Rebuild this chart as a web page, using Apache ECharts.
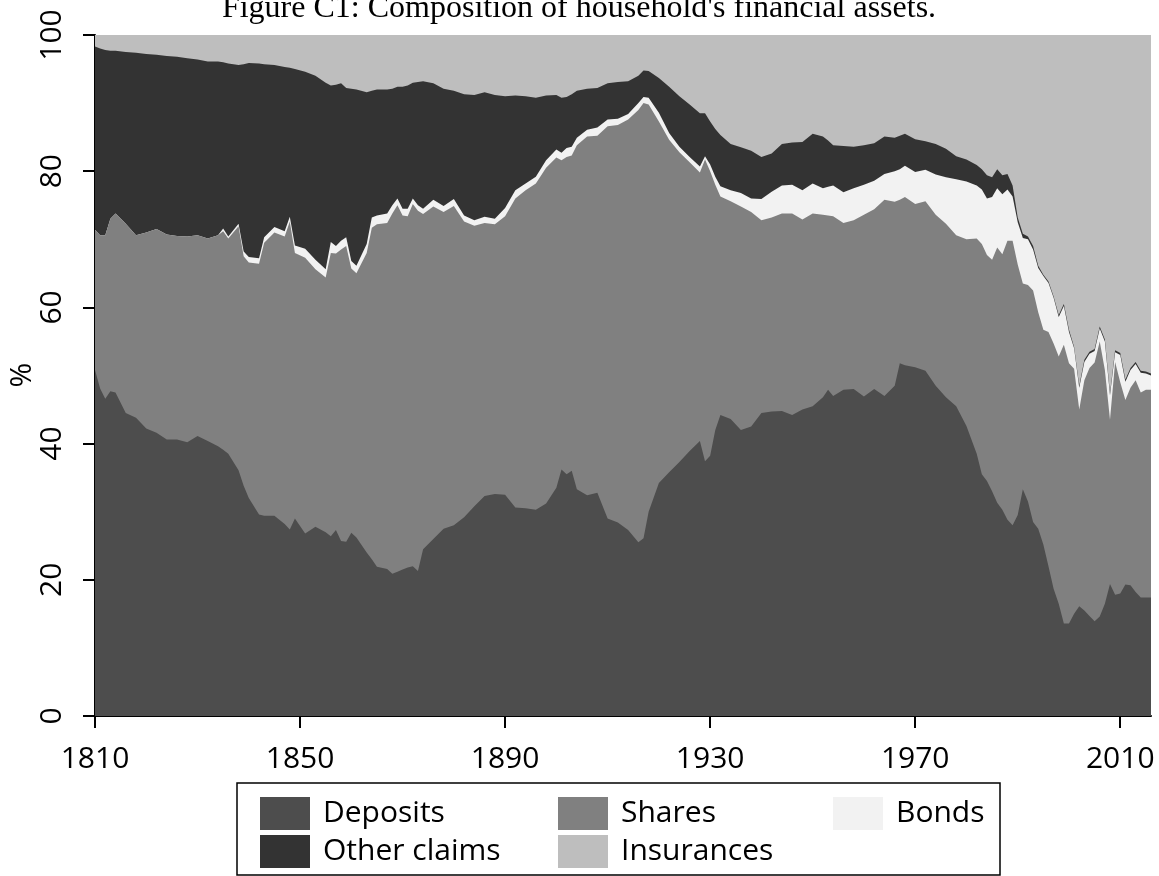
<!DOCTYPE html>
<html>
<head>
<meta charset="utf-8">
<script src="https://cdn.jsdelivr.net/npm/echarts@6/dist/echarts.min.js"></script>
<style>
html,body{margin:0;padding:0;background:#fff;}
#chart{width:1159px;height:876px;}
</style>
</head>
<body>
<div id="chart"></div>
<script>
const years = [1810,1811,1812,1813,1814,1816,1818,1820,1822,1824,1826,1828,1830,1832,1834,1835,1836,1838,1839,1840,1842,1843,1845,1847,1848,1849,1851,1853,1855,1856,1857,1858,1859,1860,1861,1863,1864,1865,1867,1868,1869,1870,1871,1872,1873,1874,1876,1878,1880,1882,1884,1886,1888,1890,1892,1894,1896,1898,1900,1901,1902,1903,1904,1906,1908,1910,1912,1914,1916,1917,1918,1920,1922,1924,1926,1928,1929,1930,1931,1932,1934,1936,1938,1940,1942,1944,1946,1948,1950,1952,1953,1954,1956,1958,1960,1962,1964,1966,1967,1968,1970,1972,1974,1976,1978,1980,1982,1983,1984,1985,1986,1987,1988,1989,1990,1991,1992,1993,1994,1995,1996,1997,1998,1999,2000,2001,2002,2003,2004,2005,2006,2007,2008,2009,2010,2011,2012,2013,2014,2015,2016];

const deposits = [50.8,48.1,46.6,47.7,47.5,44.5,43.8,42.2,41.6,40.6,40.6,40.2,41.1,40.4,39.6,39.1,38.5,36.1,33.8,32.0,29.6,29.4,29.4,28.2,27.4,29.0,26.8,27.8,27.0,26.4,27.3,25.7,25.6,26.9,26.2,24.0,23.0,21.9,21.6,20.9,21.2,21.5,21.8,22.0,21.3,24.5,26.0,27.5,28.0,29.2,30.8,32.3,32.6,32.5,30.6,30.5,30.3,31.2,33.5,36.2,35.5,36.0,33.3,32.4,32.8,29.0,28.4,27.3,25.5,26.1,30.0,34.2,35.8,37.3,38.9,40.4,37.4,38.2,42.0,44.2,43.6,42.0,42.5,44.5,44.7,44.8,44.2,45.0,45.5,46.8,47.9,47.0,47.9,48.0,46.9,48.0,47.0,48.5,51.8,51.5,51.2,50.7,48.5,46.8,45.5,42.6,38.5,35.5,34.5,33.0,31.3,30.3,28.8,28.0,29.5,33.3,31.5,28.5,27.5,25.2,22.0,18.7,16.5,13.6,13.6,15.0,16.1,15.5,14.7,13.9,14.6,16.5,19.4,17.8,18.0,19.3,19.2,18.2,17.4,17.4,17.4];

const shares = [20.6,22.5,24.0,25.3,26.3,27.8,26.8,28.8,29.9,30.1,29.9,30.2,29.5,29.7,31.0,32.1,31.6,35.8,33.7,34.6,36.8,40.1,41.6,42.2,45.2,39.0,40.5,37.8,37.4,41.6,40.6,42.8,43.4,38.8,38.8,44.0,48.7,50.3,50.8,52.9,53.8,52.0,51.6,53.2,52.9,49.2,48.8,46.5,46.9,43.4,41.2,40.1,39.6,40.9,45.4,46.7,47.9,49.3,48.5,45.4,46.6,46.3,50.5,52.7,52.4,57.6,58.4,60.3,63.5,63.9,59.8,53.1,48.8,45.5,42.4,39.4,44.3,41.8,36.0,32.1,32.0,32.8,31.5,28.3,28.5,29.0,29.6,27.9,28.3,26.8,25.6,26.4,24.5,24.8,26.7,26.4,28.8,27.0,24.0,24.7,24.0,24.9,25.1,25.5,25.1,27.4,31.6,33.8,33.2,34.0,37.5,37.5,41.0,41.8,36.8,30.2,31.8,34.0,31.8,31.5,34.4,36.0,36.3,40.9,38.2,36.0,28.9,33.8,36.4,38.0,40.4,34.3,24.1,34.2,31.0,27.1,29.0,31.1,30.1,30.5,30.5];

const bonds = [0,0,0,0,0,0,0,0,0,0,0,0,0,0,0,0.4,0.3,0.4,0.7,0.8,0.8,0.8,0.8,0.8,0.7,1.1,1.3,1.4,1.2,1.6,1.1,1.3,1.3,1.1,1.1,1.3,1.5,1.3,1.4,1.2,1.0,1.0,1.1,0.8,0.8,0.8,1.0,0.9,1.0,0.9,0.8,0.9,0.8,1.2,1.2,1.0,1.0,1.1,1.2,1.1,1.3,1.3,1.1,1.0,1.2,1.0,0.9,0.8,1.0,0.9,1.0,1.3,1.0,0.8,0.8,0.9,0.5,1.0,1.2,1.5,1.6,2.0,2.0,3.1,3.8,4.1,4.2,4.3,4.4,3.9,4.2,4.5,4.5,4.7,4.4,4.2,3.8,4.5,4.5,4.6,4.7,4.6,5.9,6.8,8.2,8.5,7.8,8.0,8.3,9.2,8.7,8.8,7.5,6.5,6.2,6.7,6.7,6.0,6.5,7.9,7.2,6.7,5.8,5.7,4.6,3.0,3.2,2.7,2.1,1.7,1.9,4.2,3.6,1.4,4.0,2.7,2.6,2.4,2.9,2.4,2.1];

const otherClaims = [26.9,27.4,27.2,24.7,23.9,25.2,26.8,26.2,25.6,26.2,26.3,26.2,25.8,26.0,25.5,24.4,25.4,23.3,27.5,28.5,28.6,25.4,23.8,24.1,21.9,25.9,26.0,27.0,27.4,23.0,23.7,23.1,21.9,25.3,25.9,22.3,18.6,18.5,18.2,17.1,16.4,17.9,18.1,17.0,18.1,18.7,17.1,17.2,15.9,17.8,18.4,18.3,18.2,16.4,13.9,12.8,11.6,9.5,8.0,8.1,7.5,7.7,6.9,6.0,5.8,5.3,5.4,4.8,4.0,3.9,3.9,5.1,6.8,7.4,7.7,7.8,6.3,6.3,7.0,7.5,6.8,6.7,7.0,6.2,5.6,6.1,6.2,7.1,7.3,7.6,6.8,5.9,6.8,6.1,5.8,5.5,5.5,4.9,4.9,4.7,4.8,4.2,4.5,4.2,3.4,3.2,3.0,3.0,3.4,2.9,2.8,2.8,2.3,1.6,0.7,0.6,0.4,0.5,0.3,0.2,0.2,0.2,0.3,0.3,0.3,0.2,0.3,0.3,0.3,0.3,0.3,0.3,0.3,0.3,0.3,0.3,0.3,0.3,0.3,0.3,0.3];

const insurances = [1.7,2.0,2.2,2.3,2.3,2.5,2.6,2.8,2.9,3.1,3.2,3.4,3.6,3.9,3.9,4.0,4.2,4.4,4.3,4.1,4.2,4.3,4.4,4.7,4.8,5.0,5.4,6.0,7.0,7.4,7.3,7.1,7.8,7.9,8.0,8.4,8.2,8.0,8.0,7.9,7.6,7.6,7.4,7.0,6.9,6.8,7.1,7.9,8.2,8.7,8.8,8.4,8.8,9.0,8.9,9.0,9.2,8.9,8.8,9.2,9.1,8.7,8.2,7.9,7.8,7.1,6.9,6.8,6.0,5.2,5.3,6.3,7.6,9.0,10.2,11.5,11.5,12.7,13.8,14.7,16.0,16.5,17.0,17.9,17.4,16.0,15.8,15.7,14.5,14.9,15.5,16.2,16.3,16.4,16.2,15.9,14.9,15.1,14.8,14.5,15.3,15.6,16.0,16.7,17.8,18.3,19.1,19.7,20.6,20.9,19.7,20.6,20.4,22.1,26.8,29.2,29.6,31.0,33.9,35.2,36.2,38.4,41.1,39.5,43.3,45.8,51.5,47.7,46.5,46.1,42.8,44.7,52.6,46.3,46.7,50.6,48.9,48.0,49.3,49.4,49.7];

const xTicks = [1810, 1850, 1890, 1930, 1970, 2010];
const seriesNames = ['Deposits', 'Shares', 'Bonds', 'Other claims', 'Insurances'];
const seriesColors = ['#4d4d4d', '#808080', '#f2f2f2', '#333333', '#bebebe'];
const seriesValues = [deposits, shares, bonds, otherClaims, insurances];
const titleText = "Figure C1: Composition of household's financial assets.";

const chart = echarts.init(document.getElementById('chart'), null, {renderer: 'canvas'});
const FONT = '"Open Sans", "Noto Sans", sans-serif';

// Stack the layers (cumulative sums); each layer is filled down to 0,
// upper layers are drawn first so lower layers sit on top of them.
const running = years.map(() => 0);
const cumulative = seriesValues.map(vals => vals.map((v, i) => (running[i] += v)));

const series = seriesNames.map((name, k) => ({
  name: name,
  type: 'line',
  symbol: 'none',
  showSymbol: false,
  smooth: false,
  z: 10 - k,
  lineStyle: {width: 0, color: seriesColors[k]},
  itemStyle: {color: seriesColors[k]},
  areaStyle: {color: seriesColors[k], opacity: 1, origin: 'start'},
  emphasis: {disabled: true},
  data: years.map((y, i) => [y, +cumulative[k][i].toFixed(2)])
}));

const legendCommon = {
  orient: 'vertical',
  top: 792,
  icon: 'rect',
  itemWidth: 50,
  itemHeight: 33,
  itemGap: 5,
  selectedMode: false,
  textStyle: {fontFamily: FONT, fontSize: 30, color: '#000', padding: [0, 0, 0, 8]}
};

chart.setOption({
  animation: false,
  backgroundColor: '#fff',
  grid: {left: 95, right: 8, top: 35, bottom: 160, containLabel: false, outerBoundsMode: 'none'},
  xAxis: {
    type: 'value',
    min: 1810,
    max: 2016,
    splitLine: {show: false},
    axisLine: {show: true, onZero: false, lineStyle: {color: '#000', width: 2}},
    axisTick: {show: true, length: 12, lineStyle: {color: '#000', width: 2}, customValues: xTicks},
    axisLabel: {show: true, customValues: xTicks, formatter: v => String(v), margin: 28, fontFamily: FONT, fontSize: 30, color: '#000'}
  },
  yAxis: {
    type: 'value',
    min: 0,
    max: 100,
    interval: 20,
    splitLine: {show: false},
    axisLine: {show: true, lineStyle: {color: '#000', width: 2}},
    axisTick: {show: true, length: 12, lineStyle: {color: '#000', width: 2}},
    axisLabel: {show: true, rotate: 90, margin: 28, formatter: v => String(v), fontFamily: FONT, fontSize: 30, color: '#000'}
  },
  legend: [
    Object.assign({}, legendCommon, {left: 255, data: ['Deposits', 'Other claims']}),
    Object.assign({}, legendCommon, {left: 553, data: ['Shares', 'Insurances']}),
    Object.assign({}, legendCommon, {left: 828, data: ['Bonds']})
  ],
  graphic: [
    {type: 'text', x: 579, y: 9, style: {text: titleText, font: '32px "Liberation Serif", "Times New Roman", serif', fill: '#000', textAlign: 'center', textVerticalAlign: 'middle'}},
    {type: 'text', x: 22, y: 375, rotation: Math.PI / 2, style: {text: '%', font: '30px ' + FONT, fill: '#000', textAlign: 'center', textVerticalAlign: 'middle'}},
    {type: 'rect', shape: {x: 237, y: 783, width: 763, height: 92}, style: {fill: 'none', stroke: '#000', lineWidth: 1.5}, z: 100}
  ],
  series: series
});
</script>
</body>
</html>
